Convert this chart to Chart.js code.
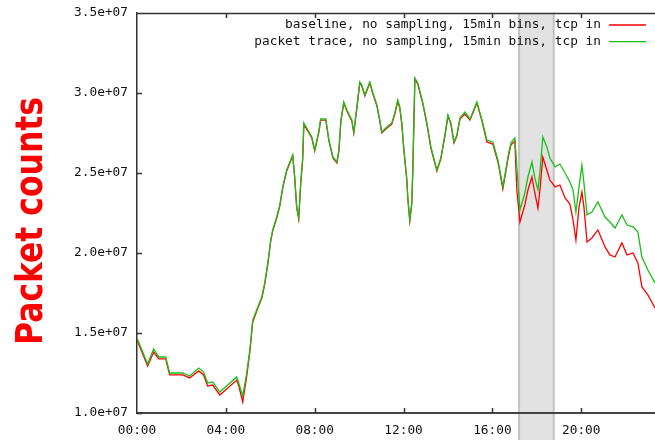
<!DOCTYPE html>
<html>
<head>
<meta charset="utf-8">
<script src="https://cdn.jsdelivr.net/npm/chart.js@4.4.1/dist/chart.umd.min.js"></script>
<style>
  html, body { margin: 0; padding: 0; background: #fff; }
  #wrap { width: 655px; height: 440px; }
</style>
</head>
<body>
<div id="wrap"><canvas id="myChart" width="655" height="440"></canvas></div>
<script>
// time of day (hours) for each sample
const hours = [
  0, 0.48, 0.75, 0.98, 1.29, 1.47, 2.06, 2.37, 2.78, 3.0, 3.18, 3.41, 3.73, 4.49, 4.58, 4.76, 4.94, 5.08, 5.21, 5.44,
  5.62, 5.75, 5.89, 6.02, 6.11, 6.29, 6.43, 6.56, 6.74, 6.88, 7.01, 7.10, 7.19, 7.28, 7.37, 7.46, 7.51, 7.69, 7.87, 8.00,
  8.18, 8.27, 8.50, 8.64, 8.82, 9.00, 9.09, 9.18, 9.31, 9.45, 9.67, 9.76, 9.90, 10.03, 10.12, 10.26, 10.48, 10.62, 10.80, 10.93,
  11.02, 11.25, 11.47, 11.61, 11.74, 11.83, 11.92, 12.01, 12.15, 12.19, 12.28, 12.37, 12.42, 12.51, 12.64, 12.87, 13.05, 13.23, 13.50, 13.68,
  13.86, 14.00, 14.13, 14.27, 14.40, 14.54, 14.76, 14.99, 15.12, 15.30, 15.53, 15.75, 16.02, 16.25, 16.47, 16.70, 16.83, 17.01, 17.10, 17.24,
  17.46, 17.60, 17.78, 17.91, 18.05, 18.14, 18.27, 18.45, 18.59, 18.82, 19.04, 19.27, 19.49, 19.63, 19.76, 19.90, 20.03, 20.12, 20.26, 20.48,
  20.75, 21.07, 21.29, 21.52, 21.83, 22.06, 22.33, 22.55, 22.73, 23.00, 23.32
];

// packet counts, millions
const baseline = [
  14.56, 12.94, 13.81, 13.38, 13.38, 12.38, 12.38, 12.19, 12.63, 12.38, 11.69, 11.75, 11.13, 12.06, 11.69, 10.69, 12.31, 13.81, 15.69, 16.56,
  17.19, 18.06, 19.31, 20.75, 21.38, 22.19, 22.94, 24.06, 25.13, 25.63, 26.06, 24.69, 22.81, 22.13, 24.31, 25.88, 28.0, 27.63, 27.19, 26.38,
  27.5, 28.31, 28.31, 27.0, 25.94, 25.63, 26.38, 28.25, 29.38, 28.88, 28.25, 27.5, 29.06, 30.63, 30.44, 29.81, 30.63, 29.94, 29.19, 28.25,
  27.5, 27.81, 28.06, 28.69, 29.5, 29.06, 28.06, 26.5, 24.5, 23.44, 22.0, 23.06, 25.31, 30.88, 30.56, 29.31, 28.06, 26.56, 25.13, 25.88,
  27.31, 28.56, 28.06, 26.88, 27.31, 28.38, 28.69, 28.31, 28.75, 29.38, 28.25, 26.94, 26.81, 25.69, 24.0, 25.88, 26.75, 27.0, 23.94, 21.94,
  23.0, 23.94, 24.75, 23.75, 22.81, 23.94, 26.0, 25.19, 24.56, 24.13, 24.25, 23.44, 23.06, 22.06, 20.81, 22.88, 23.81, 22.88, 20.69, 20.94,
  21.44, 20.38, 19.88, 19.75, 20.63, 19.88, 20.0, 19.38, 17.88, 17.38, 16.56
];
const packetTrace = [
  14.69, 13.06, 14.0, 13.5, 13.5, 12.5, 12.5, 12.31, 12.81, 12.56, 11.88, 11.94, 11.31, 12.25, 11.88, 11.06, 12.5, 13.94, 15.81, 16.63,
  17.25, 18.13, 19.38, 20.81, 21.44, 22.25, 23.0, 24.13, 25.19, 25.69, 26.13, 24.75, 22.88, 22.19, 24.38, 25.94, 28.13, 27.69, 27.25, 26.44,
  27.56, 28.38, 28.38, 27.06, 26.0, 25.69, 26.44, 28.31, 29.44, 28.94, 28.31, 27.56, 29.13, 30.69, 30.5, 29.88, 30.69, 30.0, 29.25, 28.31,
  27.56, 27.88, 28.13, 28.75, 29.56, 29.13, 28.13, 26.56, 24.56, 23.5, 22.06, 23.13, 25.38, 30.94, 30.63, 29.38, 28.13, 26.63, 25.19, 25.94,
  27.38, 28.63, 28.13, 26.94, 27.38, 28.44, 28.81, 28.38, 28.81, 29.44, 28.31, 27.06, 26.94, 25.81, 24.13, 26.0, 26.88, 27.19, 25.38, 22.69,
  23.75, 24.75, 25.69, 24.69, 23.94, 25.06, 27.25, 26.63, 25.94, 25.38, 25.56, 25.0, 24.44, 23.94, 22.56, 24.13, 25.5, 24.38, 22.38, 22.56,
  23.19, 22.25, 21.94, 21.56, 22.38, 21.75, 21.63, 21.31, 19.75, 18.94, 18.13
];

const seriesNames = [
  'baseline, no sampling, 15min bins, tcp in',
  'packet trace, no sampling, 15min bins, tcp in'
];
const seriesColors = ['#ff0000', '#19c019'];
const shadedHours = [17.2, 18.76];
const yTitle = 'Packet counts';
const monoFont = "'DejaVu Sans Mono', monospace";

// grey band marking the period of interest
const bandPlugin = {
  id: 'band',
  beforeDraw(chart) {
    const ctx = chart.ctx, x = chart.scales.x, area = chart.chartArea;
    const x0 = x.getPixelForValue(shadedHours[0]);
    const x1 = x.getPixelForValue(shadedHours[1]);
    ctx.save();
    ctx.fillStyle = '#e2e2e2';
    ctx.fillRect(x0, area.top, x1 - x0, chart.height - area.top);
    ctx.strokeStyle = '#c2c2c2';
    ctx.lineWidth = 2;
    ctx.beginPath();
    ctx.moveTo(x0, area.top); ctx.lineTo(x0, chart.height);
    ctx.moveTo(x1, area.top); ctx.lineTo(x1, chart.height);
    ctx.stroke();
    ctx.restore();
  }
};

// top border and inward tick marks, gnuplot style
const framePlugin = {
  id: 'frame',
  afterDatasetsDraw(chart) {
    const ctx = chart.ctx, area = chart.chartArea;
    ctx.save();
    ctx.strokeStyle = '#333';
    ctx.lineWidth = 1.5;
    ctx.beginPath();
    ctx.moveTo(area.left, area.top + 0.5);
    ctx.lineTo(area.right, area.top + 0.5);
    chart.scales.y.ticks.forEach(t => {
      const py = Math.round(chart.scales.y.getPixelForValue(t.value)) + 0.5;
      ctx.moveTo(area.left, py); ctx.lineTo(area.left + 5, py);
    });
    chart.scales.x.ticks.forEach(t => {
      const px = Math.round(chart.scales.x.getPixelForValue(t.value)) + 0.5;
      if (t.value === 0) return;
      ctx.moveTo(px, area.bottom); ctx.lineTo(px, area.bottom - 5);
      ctx.moveTo(px, area.top); ctx.lineTo(px, area.top + 5);
    });
    ctx.stroke();
    ctx.restore();
  }
};

// legend at the top right, sample line after the text
const legendPlugin = {
  id: 'rightLegend',
  afterDraw(chart) {
    const ctx = chart.ctx;
    ctx.save();
    ctx.font = '12.8px ' + monoFont;
    ctx.textAlign = 'right';
    ctx.textBaseline = 'middle';
    chart.data.datasets.forEach((ds, i) => {
      const y = 25 + i * 16.7;
      ctx.fillStyle = '#111';
      ctx.fillText(seriesNames[i], 601, y);
      ctx.strokeStyle = ds.borderColor;
      ctx.lineWidth = ds.borderWidth;
      ctx.beginPath();
      ctx.moveTo(609, y); ctx.lineTo(646, y);
      ctx.stroke();
    });
    ctx.restore();
  }
};

// big red y axis title
const titlePlugin = {
  id: 'yTitle',
  afterDraw(chart) {
    const ctx = chart.ctx;
    ctx.save();
    ctx.font = 'bold 38px "DejaVu Sans", sans-serif';
    ctx.fillStyle = '#ff0000';
    ctx.textAlign = 'center';
    ctx.textBaseline = 'alphabetic';
    ctx.translate(42, 221);
    ctx.rotate(-Math.PI / 2);
    const w = ctx.measureText(yTitle).width;
    ctx.scale(248 / w, 1);
    ctx.fillText(yTitle, 0, 0);
    ctx.restore();
  }
};

const ctx = document.getElementById('myChart').getContext('2d');
new Chart(ctx, {
  type: 'line',
  data: {
    datasets: [
      {
        label: seriesNames[0],
        data: hours.map((h, i) => ({ x: h, y: baseline[i] * 1e6 })),
        borderColor: seriesColors[0],
        borderWidth: 1.3,
        pointRadius: 0,
        tension: 0,
        order: 1
      },
      {
        label: seriesNames[1],
        data: hours.map((h, i) => ({ x: h, y: packetTrace[i] * 1e6 })),
        borderColor: seriesColors[1],
        borderWidth: 1.3,
        pointRadius: 0,
        tension: 0,
        order: 0
      }
    ]
  },
  options: {
    responsive: false,
    animation: false,
    devicePixelRatio: 1,
    layout: { padding: { top: 13, left: 0, right: 0, bottom: 0 } },
    plugins: {
      legend: { display: false },
      tooltip: { enabled: false }
    },
    scales: {
      x: {
        type: 'linear',
        min: 0,
        max: 23.32,
        afterFit: s => { s.height = 27; },
        grid: { display: false, drawTicks: false },
        border: { display: true, color: '#444', width: 2 },
        ticks: {
          stepSize: 4,
          includeBounds: false,
          autoSkip: false,
          maxRotation: 0,
          padding: 10,
          color: '#111',
          font: { family: monoFont, size: 12.8 },
          callback: v => String(v).padStart(2, '0') + ':00'
        }
      },
      y: {
        min: 1e7,
        max: 3.5e7,
        afterFit: s => { s.width = 137; },
        grid: {
          display: true,
          drawOnChartArea: false,
          drawTicks: true,
          tickLength: 9,
          color: 'rgba(0,0,0,0)'
        },
        border: { display: true, color: '#333', width: 1.5 },
        ticks: {
          stepSize: 5e6,
          padding: 0,
          color: '#111',
          font: { family: monoFont, size: 12.8 },
          callback: v => v.toExponential(1).replace(/e\+(\d)$/, 'e+0$1')
        }
      }
    }
  },
  plugins: [bandPlugin, framePlugin, legendPlugin, titlePlugin]
});
</script>
</body>
</html>
